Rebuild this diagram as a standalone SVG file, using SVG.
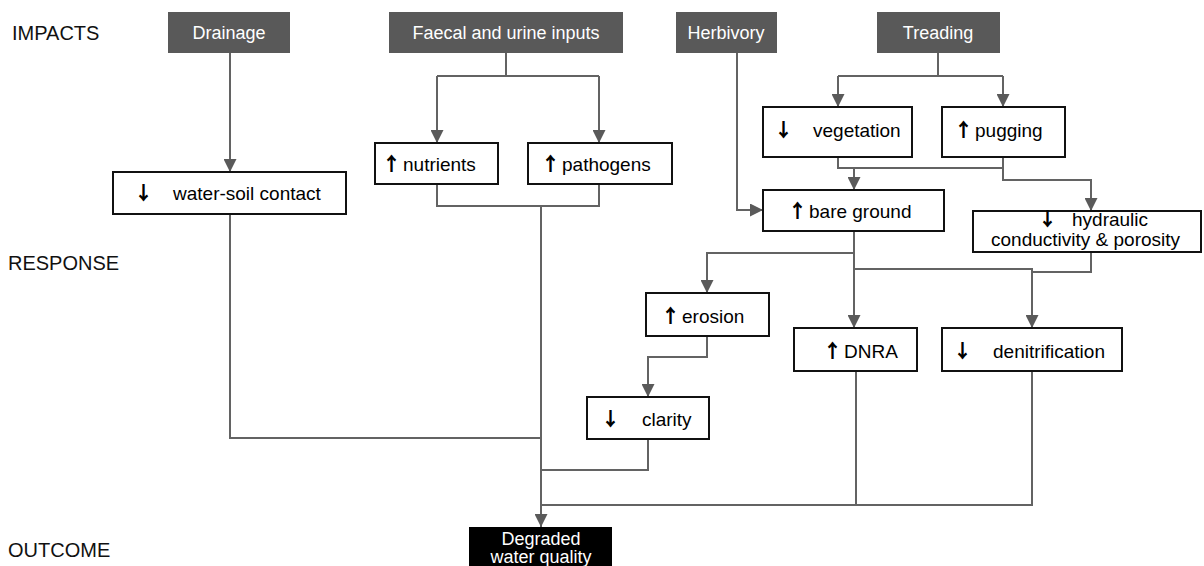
<svg xmlns="http://www.w3.org/2000/svg" width="1204" height="566" viewBox="0 0 1204 566">
<style>
.t{font-family:"Liberation Sans",Arial,sans-serif;font-size:19px;fill:#000}
.lbl{font-family:"Liberation Sans",Arial,sans-serif;font-size:20px;fill:#111}
.h{fill:#595959}
.ht{font-family:"Liberation Sans",Arial,sans-serif;font-size:18px;fill:#fff;text-anchor:middle}
.b{fill:#fff;stroke:#111;stroke-width:2}
.ar{font-family:"Noto Sans CJK SC",sans-serif;font-size:19px;font-weight:900;fill:#000}
.c{fill:none;stroke:#636363;stroke-width:2}
</style>
<defs>
<marker id="ah" markerWidth="13" markerHeight="13" viewBox="0 0 13 13" refX="13" refY="6.5" orient="auto" markerUnits="userSpaceOnUse">
<path d="M0,0 L13,6.5 L0,13 Z" fill="#5a5a5a"/>
</marker>
</defs>
<rect width="1204" height="566" fill="#fff"/>
<text class="lbl" x="12" y="40">IMPACTS</text>
<text class="lbl" x="8" y="270">RESPONSE</text>
<text class="lbl" x="8" y="557">OUTCOME</text>

<g id="connectors">
<path class="c" d="M230 53 V172" marker-end="url(#ah)"/>
<path class="c" d="M506 53 V76 M437 76 H599"/>
<path class="c" d="M437 76 V143" marker-end="url(#ah)"/>
<path class="c" d="M599 76 V143" marker-end="url(#ah)"/>
<path class="c" d="M437 184 V206 H599 V184"/>
<path class="c" d="M541 206 V527" marker-end="url(#ah)"/>
<path class="c" d="M230 214 V438 H541"/>
<path class="c" d="M737 53 V210 H763" marker-end="url(#ah)"/>
<path class="c" d="M938 53 V76 M838 76 H1003"/>
<path class="c" d="M838 76 V107" marker-end="url(#ah)"/>
<path class="c" d="M1003 76 V107" marker-end="url(#ah)"/>
<path class="c" d="M838 157 V168 H1003 V157"/>
<path class="c" d="M854 168 V190" marker-end="url(#ah)"/>
<path class="c" d="M1003 168 V180 H1091 V211" marker-end="url(#ah)"/>
<path class="c" d="M854 231 V328" marker-end="url(#ah)"/>
<path class="c" d="M854 253 H707 V293" marker-end="url(#ah)"/>
<path class="c" d="M854 269 H1032 V328" marker-end="url(#ah)"/>
<path class="c" d="M1091 252 V272 H1032"/>
<path class="c" d="M707 336 V357 H648 V397" marker-end="url(#ah)"/>
<path class="c" d="M648 439 V470 H541"/>
<path class="c" d="M856 371 V505"/>
<path class="c" d="M1032 371 V505 H541"/>
</g>

<g id="drainage"><rect class="h" x="168" y="12" width="122" height="41"/><text class="ht" x="229" y="39">Drainage</text></g>
<g id="faecal"><rect class="h" x="389" y="12" width="234" height="41"/><text class="ht" x="506" y="39">Faecal and urine inputs</text></g>
<g id="herbivory"><rect class="h" x="676" y="12" width="101" height="41"/><text class="ht" x="726" y="39">Herbivory</text></g>
<g id="treading"><rect class="h" x="877" y="12" width="123" height="41"/><text class="ht" x="938" y="39">Treading</text></g>

<g id="water-soil"><rect class="b" x="113" y="172" width="233" height="42"/><text class="ar" x="134" y="200">↓</text><text class="t" x="173" y="200">water-soil contact</text></g>
<g id="nutrients"><rect class="b" x="375" y="143" width="123" height="41"/><text class="ar" x="382" y="171">↑</text><text class="t" x="403" y="171">nutrients</text></g>
<g id="pathogens"><rect class="b" x="528" y="143" width="144" height="41"/><text class="ar" x="541" y="171">↑</text><text class="t" x="562" y="171">pathogens</text></g>
<g id="vegetation"><rect class="b" x="763" y="107" width="149" height="50"/><text class="ar" x="774" y="137">↓</text><text class="t" x="813" y="137">vegetation</text></g>
<g id="pugging"><rect class="b" x="942" y="107" width="123" height="50"/><text class="ar" x="954" y="137">↑</text><text class="t" x="975" y="137">pugging</text></g>
<g id="bare-ground"><rect class="b" x="763" y="190" width="181" height="41"/><text class="ar" x="788" y="218">↑</text><text class="t" x="809" y="218">bare ground</text></g>
<g id="hydraulic"><rect class="b" x="973" y="211" width="228" height="41"/><text class="ar" x="1038" y="226" font-size="17">↓</text><text class="t" x="1072" y="226" font-size="17">hydraulic</text><text class="t" x="991" y="246" font-size="17">conductivity  &amp; porosity</text></g>
<g id="erosion"><rect class="b" x="646" y="293" width="123" height="43"/><text class="ar" x="661" y="323">↑</text><text class="t" x="682" y="323">erosion</text></g>
<g id="dnra"><rect class="b" x="794" y="328" width="123" height="43"/><text class="ar" x="823" y="358">↑</text><text class="t" x="844" y="358">DNRA</text></g>
<g id="denitrification"><rect class="b" x="942" y="328" width="180" height="43"/><text class="ar" x="953" y="358">↓</text><text class="t" x="993" y="358">denitrification</text></g>
<g id="clarity"><rect class="b" x="587" y="397" width="122" height="42"/><text class="ar" x="601" y="426">↓</text><text class="t" x="642" y="426">clarity</text></g>
<g id="degraded"><rect x="469" y="527" width="143" height="45" fill="#000"/><text class="ht" x="541" y="545" font-size="17">Degraded</text><text class="ht" x="541" y="563" font-size="17">water quality</text></g>
</svg>
